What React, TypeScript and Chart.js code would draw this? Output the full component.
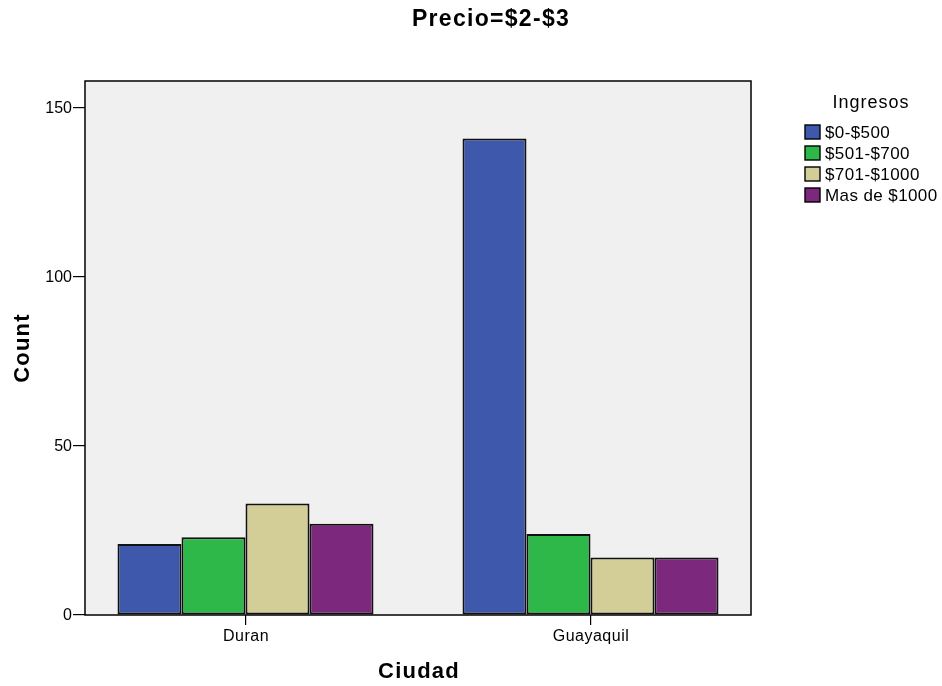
import React, { useEffect, useRef } from "react";
import { Chart, registerables } from "chart.js";
Chart.register(...registerables);

const categories = ["Duran", "Guayaquil"];
const seriesNames = ["$0-$500", "$501-$700", "$701-$1000", "Mas de $1000"];
const s0 = [21, 141];
const s1 = [23, 24];
const s2 = [33, 17];
const s3 = [27, 17];
const seriesValues = [s0, s1, s2, s3];
const colors = ["#3E58AC", "#2FB84A", "#D3CE97", "#7B287D"];
const yTicks = [0, 50, 100, 150];

const FONT = "Arial, 'Liberation Sans', sans-serif";

export default function App() {
  const ref = useRef<HTMLCanvasElement | null>(null);
  useEffect(() => {
    document.body.style.margin = "0";
    const canvas = ref.current!;
    const decor = {
      id: "decor",
      beforeDraw(chart: any) {
        const { ctx, chartArea: a } = chart;
        ctx.save();
        ctx.fillStyle = "#F0F0F0";
        ctx.fillRect(a.left, a.top, a.right - a.left, a.bottom - a.top);
        ctx.restore();
      },
      afterDraw(chart: any) {
        const { ctx, chartArea: a } = chart;
        const xs = chart.scales.x;
        const ys = chart.scales.y;
        ctx.save();
        ctx.strokeStyle = "#000";
        ctx.lineWidth = 1.5;
        ctx.strokeRect(a.left, a.top, a.right - a.left, a.bottom - a.top);
        ctx.fillStyle = "#000";
        ctx.textBaseline = "middle";

        // tick labels
        (ctx as any).letterSpacing = "0px";
        ctx.font = `16px ${FONT}`;
        ctx.textAlign = "right";
        yTicks.forEach((v) => {
          ctx.fillText(String(v), a.left - 13, ys.getPixelForValue(v) + 1);
        });
        (ctx as any).letterSpacing = "0.5px";
        ctx.font = `16px ${FONT}`;
        ctx.textAlign = "center";
        categories.forEach((c, i) => {
          ctx.fillText(c, xs.getPixelForValue(i) + 0.5, 637);
        });

        // titles
        (ctx as any).letterSpacing = "1.3px";
        ctx.font = `bold 23px ${FONT}`;
        ctx.fillText("Precio=$2-$3", 491, 20);
        (ctx as any).letterSpacing = "1.2px";
        ctx.font = `bold 22px ${FONT}`;
        ctx.fillText("Ciudad", (a.left + a.right) / 2 + 1, 672);
        ctx.save();
        ctx.translate(23, (a.top + a.bottom) / 2);
        ctx.rotate(-Math.PI / 2);
        ctx.fillText("Count", 0, 0);
        ctx.restore();

        // legend
        (ctx as any).letterSpacing = "1px";
        ctx.font = `18px ${FONT}`;
        ctx.fillText("Ingresos", 871, 103);
        (ctx as any).letterSpacing = "0.4px";
        ctx.font = `17px ${FONT}`;
        ctx.textAlign = "left";
        seriesNames.forEach((n, i) => {
          const y = 132 + i * 21;
          ctx.fillStyle = colors[i];
          ctx.fillRect(805, y - 7, 15, 14);
          ctx.lineWidth = 1.4;
          ctx.strokeStyle = "#000";
          ctx.strokeRect(805, y - 7, 15, 14);
          ctx.fillStyle = "#000";
          ctx.fillText(n, 825, y + 1);
        });
        ctx.restore();
      },
    };
    const chart = new Chart(canvas, {
      type: "bar",
      data: {
        datasets: seriesValues.map((vals, i) => ({
          label: seriesNames[i],
          data: vals.map((v, j) => ({ x: j, y: v })),
          backgroundColor: colors[i],
          borderColor: "#111",
          borderWidth: 2,
          borderSkipped: false,
          categoryPercentage: 0.742,
          barPercentage: 1,
        })),
      },
      options: {
        animation: false,
        responsive: false,
        maintainAspectRatio: false,
        layout: { padding: { top: 81, right: 191, left: 0, bottom: 0 } },
        plugins: { legend: { display: false }, title: { display: false }, tooltip: { enabled: false } },
        scales: {
          x: {
            type: "linear",
            offset: false,
            min: -0.4652,
            max: 1.4652,
            afterBuildTicks(scale: any) {
              scale.ticks = categories.map((_, i) => ({ value: i }));
            },
            afterFit(scale: any) {
              scale.height = 71;
            },
            grid: { offset: false, drawOnChartArea: false, drawTicks: true, tickLength: 10, color: "#000", lineWidth: 1.2 },
            border: { display: false },
            ticks: { display: false },
          },
          y: {
            min: 0,
            max: 158,
            afterBuildTicks(scale: any) {
              scale.ticks = yTicks.map((v) => ({ value: v }));
            },
            afterFit(scale: any) {
              scale.width = 85;
            },
            grid: { drawOnChartArea: false, drawTicks: true, tickLength: 12, color: "#000", lineWidth: 1.2 },
            border: { display: false },
            ticks: { display: false },
          },
        },
      },
      plugins: [decor],
    });
    return () => chart.destroy();
  }, []);
  return (
    <div style={{ position: "absolute", left: 0, top: 0, width: 942, height: 686 }}>
      <canvas ref={ref} width={942} height={686} style={{ width: 942, height: 686 }} />
    </div>
  );
}
